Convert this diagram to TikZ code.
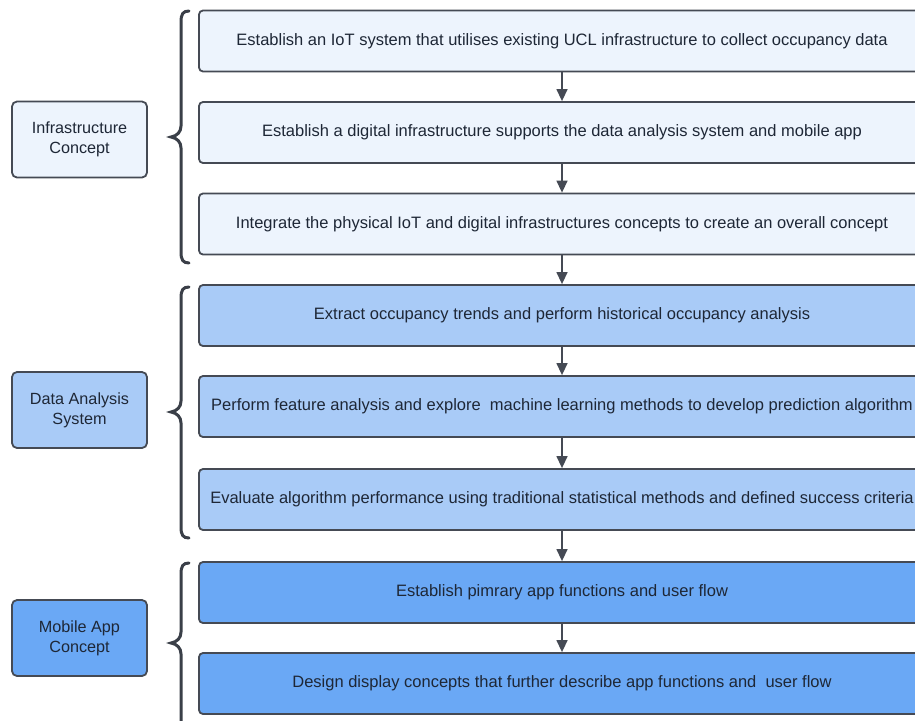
\documentclass[tikz,border=0pt]{standalone}
\usepackage{fontspec}
\setmainfont{Liberation Sans}
\usetikzlibrary{arrows.meta}
\definecolor{cInfra}{HTML}{EDF4FD}
\definecolor{cData}{HTML}{A9CBF7}
\definecolor{cMob}{HTML}{6AA8F5}
\definecolor{cLine}{HTML}{454A54}
\definecolor{cBrace}{HTML}{3A3F48}
\definecolor{cText}{HTML}{1E2736}
\tikzset{
  stepbox/.style={draw=cLine, line width=1.8pt, rounded corners=4pt, minimum width=726pt, minimum height=61pt, inner sep=0pt, text=cText, font=\fontsize{16.5}{19}\selectfont},
  groupbox/.style={draw=cLine, line width=1.8pt, rounded corners=5pt, minimum width=135pt, minimum height=76pt, inner sep=0pt, text=cText, align=center, font=\fontsize{16.2}{20}\selectfont},
  flow/.style={draw=cLine, line width=1.4pt, -{Triangle[length=12pt,width=11pt]}},
  bracestyle/.style={draw=cBrace, line width=3pt, line cap=round}
}
\begin{document}
\begin{tikzpicture}[x=1pt,y=-1pt]
\useasboundingbox (0,0) rectangle (915,720);
\fill[white] (0,0) rectangle (915,720);
% step boxes
\node[stepbox, fill=cInfra] (b1) at (562,41) {Establish an IoT system that utilises existing UCL infrastructure to collect occupancy data};
\node[stepbox, fill=cInfra] (b2) at (562,132.5) {Establish a digital infrastructure supports the data analysis system and mobile app};
\node[stepbox, fill=cInfra] (b3) at (562,224) {Integrate the physical IoT and digital infrastructures concepts to create an overall concept};
\node[stepbox, fill=cData] (b4) at (562,315.5) {Extract occupancy trends and perform historical occupancy analysis};
\node[stepbox, fill=cData] (b5) at (562,406.5) {Perform feature analysis and explore\ \ machine learning methods to develop prediction algorithm};
\node[stepbox, fill=cData] (b6) at (562,499.5) {Evaluate algorithm performance using traditional statistical methods and defined success criteria};
\node[stepbox, fill=cMob] (b7) at (562,592.5) {Establish pimrary app functions and user flow};
\node[stepbox, fill=cMob] (b8) at (562,683.5) {Design display concepts that further describe app functions and\ \ user flow};
% arrows
\draw[flow] (b1) -- (b2);
\draw[flow] (b2) -- (b3);
\draw[flow] (b3) -- (b4);
\draw[flow] (b4) -- (b5);
\draw[flow] (b5) -- (b6);
\draw[flow] (b6) -- (b7);
\draw[flow] (b7) -- (b8);
% group boxes
\node[groupbox, fill=cInfra] (infra) at (79.5,139.5) {Infrastructure\\Concept};
\node[groupbox, fill=cData] (data) at (79.5,410) {Data Analysis\\System};
\node[groupbox, fill=cMob] (mobile) at (79.5,638) {Mobile App\\Concept};
% braces
\draw[bracestyle] (189,11) .. controls (183,11) and (181,14) .. (181,22) -- (181,126) .. controls (181,132) and (177,136) .. (171,137) .. controls (177,138) and (181,142) .. (181,148) -- (181,252) .. controls (181,260) and (183,263) .. (189,263);
\draw[bracestyle] (189,287) .. controls (183,287) and (181,290) .. (181,298) -- (181,401) .. controls (181,407) and (177,411) .. (171,412) .. controls (177,413) and (181,417) .. (181,423) -- (181,527) .. controls (181,535) and (183,538) .. (189,538);
\draw[bracestyle] (189,563) .. controls (183,563) and (181,566) .. (181,574) -- (181,632) .. controls (181,638) and (177,642) .. (171,643) .. controls (177,644) and (181,648) .. (181,654) -- (181,718) .. controls (181,726) and (183,729) .. (189,729);
\end{tikzpicture}
\end{document}
